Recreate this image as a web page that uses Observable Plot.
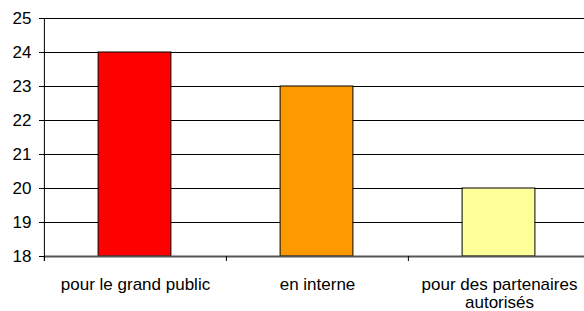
<!DOCTYPE html>
<html><head><meta charset="utf-8">
<script src="https://cdn.jsdelivr.net/npm/d3@7"></script>
<script src="https://cdn.jsdelivr.net/npm/@observablehq/plot@0.6"></script>
<style>html,body{margin:0;padding:0;background:#fff;overflow:hidden;}</style>
</head><body><div id="chart"></div>
<script>
const categories = ["pour le grand public", "en interne", "pour des partenaires autorisés"];
const tickLabels = ["pour le grand public", "en interne", "pour des partenaires\nautorisés"];
const values = [24, 23, 20];
const colors = ["#FF0000", "#FF9900", "#FFFF99"];
const yTicks = [18, 19, 20, 21, 22, 23, 24, 25];
const yMin = 18, yMax = 25;

const width = 584, height = 311;
const mL = 44, mR = -6.6, mT = 18, mB = 55;
const step = (width - mL - mR) / categories.length;
const barWidth = 73;
const inset = (step - barWidth) / 2;

const data = categories.map((c, i) => ({category: c, value: values[i], color: colors[i], label: tickLabels[i]}));

const chart = Plot.plot({
  width, height,
  marginLeft: mL, marginRight: mR, marginTop: mT, marginBottom: mB,
  style: {fontFamily: "'Liberation Sans', Arial, sans-serif", fontSize: "17px", background: "#fff", color: "#000", overflow: "visible"},
  x: {domain: categories, padding: 0, axis: null},
  y: {domain: [yMin, yMax], axis: null},
  color: {type: "identity"},
  marks: [
    Plot.ruleY(yTicks.filter(t => t > yMin), {y: d => d, stroke: "#000", strokeWidth: 1}),
    Plot.barY(data, {x: "category", y1: yMin, y2: "value", fill: "color", stroke: "#000", strokeWidth: 1, insetLeft: inset - 0.5, insetRight: inset + 0.5}),
    Plot.ruleY([yMin], {y: d => d, stroke: "#555", strokeWidth: 2}),
    Plot.ruleX([categories[0]], {x: d => d, dx: -step / 2, y1: yMax, y2: yMin, insetBottom: -5, stroke: "#000"}),
    Plot.ruleX(categories, {x: d => d, dx: -step / 2, y1: yMin, y2: yMin, insetBottom: -5, stroke: "#000"}),
    Plot.axisY(yTicks, {tickSize: 5, tickPadding: 8, fontSize: 17, stroke: "#000", fill: "#000", label: null}),
    Plot.text(data, {x: "category", y: yMin, text: "label", lineAnchor: "top", dy: 20, lineHeight: 1.1, fontSize: 17, fill: "#000"})
  ]
});
document.getElementById("chart").appendChild(chart);
</script>
</body></html>
